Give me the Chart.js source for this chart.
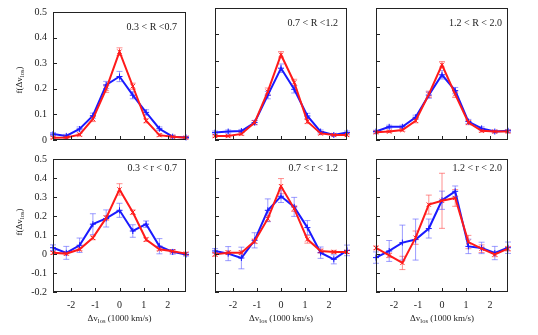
<!DOCTYPE html>
<html>
<head>
<meta charset="utf-8">
<script src="https://cdn.jsdelivr.net/npm/chart.js@4.4.0/dist/chart.umd.min.js"></script>
<style>
body { margin: 0; background: #fff; width: 538px; height: 335px; overflow: hidden; position: relative; font-family: "Liberation Serif", serif; color: #222; }
canvas { position: absolute; left: 0; top: 0; }
.ytitle { position: absolute; font-size: 9px; transform: translate(-50%, -50%) rotate(-90deg); white-space: nowrap; }
.xtitle { position: absolute; font-size: 9px; transform: translate(-50%, -50%); white-space: nowrap; }
sub { font-size: 6.5px; vertical-align: -2px; }
</style>
</head>
<body>
<script>
// --- DATOS ---
const xBins = [-2.75, -2.2, -1.65, -1.1, -0.55, 0, 0.55, 1.1, 1.65, 2.2, 2.75];
const xTicks = [-2, -1, 0, 1, 2];
const panelLabels = ['0.3 < R <0.7', '0.7 < R <1.2', '1.2 < R < 2.0',
                     '0.3 < r < 0.7', '0.7 < r < 1.2', '1.2 < r < 2.0'];

// fila superior (R)
const blueR03 = [0.023, 0.016, 0.043, 0.095, 0.215, 0.248, 0.175, 0.108, 0.044, 0.013, 0.01];
const redR03  = [0.009, 0.01, 0.021, 0.082, 0.2, 0.345, 0.21, 0.075, 0.019, 0.013, 0.009];
const blueR03Err = [0.006, 0.006, 0.008, 0.01, 0.014, 0.02, 0.014, 0.01, 0.007, 0.005, 0.004];
const redR03Err  = [0.004, 0.004, 0.006, 0.01, 0.014, 0.015, 0.012, 0.008, 0.005, 0.004, 0.004];

const blueR07 = [0.028, 0.032, 0.034, 0.066, 0.17, 0.272, 0.192, 0.091, 0.032, 0.019, 0.028];
const redR07  = [0.015, 0.015, 0.023, 0.066, 0.183, 0.323, 0.218, 0.07, 0.025, 0.019, 0.019];
const blueR07Err = [0.006, 0.006, 0.006, 0.008, 0.014, 0.016, 0.014, 0.01, 0.006, 0.004, 0.006];
const redR07Err  = [0.004, 0.004, 0.005, 0.008, 0.014, 0.012, 0.012, 0.008, 0.005, 0.004, 0.004];

const blueR12 = [0.032, 0.05, 0.05, 0.086, 0.17, 0.247, 0.187, 0.07, 0.044, 0.032, 0.035];
const redR12  = [0.029, 0.032, 0.038, 0.073, 0.173, 0.285, 0.173, 0.066, 0.035, 0.032, 0.032];
const blueR12Err = [0.005, 0.006, 0.006, 0.008, 0.012, 0.016, 0.012, 0.008, 0.006, 0.005, 0.005];
const redR12Err  = [0.004, 0.004, 0.005, 0.008, 0.012, 0.012, 0.012, 0.008, 0.005, 0.004, 0.004];

// fila inferior (r)
const bluer03 = [0.033, 0.006, 0.046, 0.157, 0.187, 0.23, 0.121, 0.157, 0.041, 0.011, -0.003];
const redr03  = [0.006, 0.002, 0.025, 0.085, 0.19, 0.34, 0.22, 0.076, 0.025, 0.014, 0.002];
const bluer03Err = [0.015, 0.034, 0.038, 0.055, 0.045, 0.037, 0.033, 0.017, 0.04, 0.012, 0.008];
const redr03Err  = [0.008, 0.008, 0.008, 0.01, 0.012, 0.03, 0.012, 0.01, 0.008, 0.008, 0.006];

const bluer07 = [0.016, 0.002, -0.021, 0.072, 0.23, 0.304, 0.248, 0.139, 0.007, -0.028, 0.019];
const redr07  = [-0.002, 0.007, 0.007, 0.067, 0.186, 0.357, 0.239, 0.077, 0.016, 0.011, 0.011];
const bluer07Err = [0.012, 0.037, 0.057, 0.04, 0.06, 0.033, 0.05, 0.037, 0.03, 0.024, 0.028];
const redr07Err  = [0.01, 0.01, 0.01, 0.012, 0.015, 0.04, 0.015, 0.02, 0.01, 0.008, 0.008];

const bluer12 = [-0.019, 0.016, 0.06, 0.076, 0.134, 0.283, 0.33, 0.04, 0.032, 0.005, 0.033];
const redr12  = [0.032, -0.007, -0.047, 0.086, 0.26, 0.28, 0.295, 0.063, 0.028, -0.002, 0.028];
const bluer12Err = [0.03, 0.055, 0.092, 0.108, 0.05, 0.048, 0.028, 0.038, 0.03, 0.035, 0.03];
const redr12Err  = [0.01, 0.012, 0.035, 0.035, 0.05, 0.145, 0.044, 0.035, 0.02, 0.012, 0.012];

const blueSeries = [blueR03, blueR07, blueR12, bluer03, bluer07, bluer12];
const redSeries  = [redR03, redR07, redR12, redr03, redr07, redr12];
const blueErrs = [blueR03Err, blueR07Err, blueR12Err, bluer03Err, bluer07Err, bluer12Err];
const redErrs  = [redR03Err, redR07Err, redR12Err, redr03Err, redr07Err, redr12Err];

// --- GEOMETRIA ---
const W = 538, H = 335;
const colLeft = [53, 215, 376], colRight = [186, 347, 508];
const rowTop = [8, 159], rowBottom = [140, 292];
const AX_W = 40, AX_H = 25;
const serif = '"Liberation Serif", "DejaVu Serif", serif';

// barras de error
const errorBars = {
    id: 'errorBars',
    beforeDatasetsDraw(chart) {
        const ctx = chart.ctx, xs = chart.scales.x, ys = chart.scales.y;
        chart.data.datasets.forEach(ds => {
            if (!ds.err) return;
            ctx.save();
            ctx.strokeStyle = ds.errColor;
            ctx.lineWidth = 1;
            ds.data.forEach((p, i) => {
                const px = xs.getPixelForValue(p.x);
                const lo = ys.getPixelForValue(p.y - ds.err[i]);
                const hi = ys.getPixelForValue(p.y + ds.err[i]);
                ctx.beginPath();
                ctx.moveTo(px, lo); ctx.lineTo(px, hi);
                ctx.moveTo(px - 3, lo); ctx.lineTo(px + 3, lo);
                ctx.moveTo(px - 3, hi); ctx.lineTo(px + 3, hi);
                ctx.stroke();
            });
            ctx.restore();
        });
    }
};

// marco, ticks internos y etiqueta del panel
const frame = {
    id: 'frame',
    afterDatasetsDraw(chart, args, opts) {
        const { ctx, chartArea: a, scales } = chart;
        ctx.save();
        ctx.strokeStyle = '#222';
        ctx.lineWidth = 1;
        ctx.strokeRect(a.left + 0.5, a.top + 0.5, a.width - 1, a.height - 1);
        ctx.beginPath();
        xTicks.forEach(v => {
            const px = Math.round(scales.x.getPixelForValue(v)) + 0.5;
            ctx.moveTo(px, a.bottom); ctx.lineTo(px, a.bottom - 4);
        });
        scales.y.ticks.forEach(t => {
            const py = Math.round(scales.y.getPixelForValue(t.value)) + 0.5;
            ctx.moveTo(a.left, py); ctx.lineTo(a.left + 4, py);
        });
        ctx.stroke();
        ctx.fillStyle = '#222';
        ctx.font = '10px ' + serif;
        ctx.textAlign = 'right';
        ctx.textBaseline = 'middle';
        ctx.fillText(opts.label, a.right - opts.inset, a.top + opts.dy);
        ctx.restore();
    }
};

function crearPanel(i) {
    const row = Math.floor(i / 3), col = i % 3;
    const canvas = document.createElement('canvas');
    canvas.width = W; canvas.height = H;
    document.body.appendChild(canvas);

    const pts = arr => xBins.map((x, k) => ({ x: x, y: arr[k] }));
    const yMin = row === 0 ? 0 : -0.2;

    new Chart(canvas, {
        type: 'line',
        data: {
            datasets: [
                {
                    data: pts(redSeries[i]), err: redErrs[i], errColor: 'rgba(255,70,70,0.6)',
                    borderColor: '#ff1a1a', borderWidth: 2, tension: 0,
                    pointStyle: 'crossRot', pointRadius: 3, pointBorderWidth: 1,
                    pointBorderColor: '#ff1a1a', clip: false
                },
                {
                    data: pts(blueSeries[i]), err: blueErrs[i], errColor: 'rgba(90,90,255,0.6)',
                    borderColor: '#1a1aff', borderWidth: 2, tension: 0,
                    pointStyle: 'cross', pointRadius: 3, pointBorderWidth: 1,
                    pointBorderColor: '#1a1aff', clip: false
                }
            ]
        },
        options: {
            responsive: false,
            animation: false,
            devicePixelRatio: 1,
            layout: {
                padding: {
                    left: colLeft[col] - AX_W,
                    right: W - colRight[col],
                    top: rowTop[row],
                    bottom: H - rowBottom[row] - AX_H
                }
            },
            plugins: {
                legend: { display: false },
                tooltip: { enabled: false },
                frame: { label: panelLabels[i], inset: col === 2 ? 6 : 9, dy: row === 0 ? 15 : 9 }
            },
            scales: {
                x: {
                    type: 'linear', min: -2.75, max: 2.75,
                    grid: { display: false, drawTicks: false },
                    border: { display: false },
                    afterBuildTicks: s => { s.ticks = xTicks.map(v => ({ value: v })); },
                    afterFit: s => { s.height = AX_H; },
                    ticks: {
                        display: row === 1, padding: 7, color: '#222',
                        font: { family: serif, size: 10 }
                    }
                },
                y: {
                    min: yMin, max: 0.5,
                    grid: { display: false, drawTicks: false },
                    border: { display: false },
                    afterFit: s => { s.width = AX_W; },
                    ticks: {
                        display: col === 0, stepSize: 0.1, padding: 6, color: '#222',
                        font: { family: serif, size: 10 },
                        callback: v => String(+v.toFixed(1))
                    }
                }
            }
        },
        plugins: [errorBars, frame]
    });
}

for (let i = 0; i < 6; i++) crearPanel(i);

// titulos de ejes
const ytitleY = [80, 222];
ytitleY.forEach(y => {
    const d = document.createElement('div');
    d.className = 'ytitle';
    d.style.left = '19px';
    d.style.top = y + 'px';
    d.innerHTML = 'f(Δv<sub>los</sub>)';
    document.body.appendChild(d);
});
colLeft.forEach((l, c) => {
    const d = document.createElement('div');
    d.className = 'xtitle';
    d.style.left = ((l + colRight[c]) / 2) + 'px';
    d.style.top = '318px';
    d.innerHTML = 'Δv<sub>los</sub> (1000 km/s)';
    document.body.appendChild(d);
});
</script>
</body>
</html>
